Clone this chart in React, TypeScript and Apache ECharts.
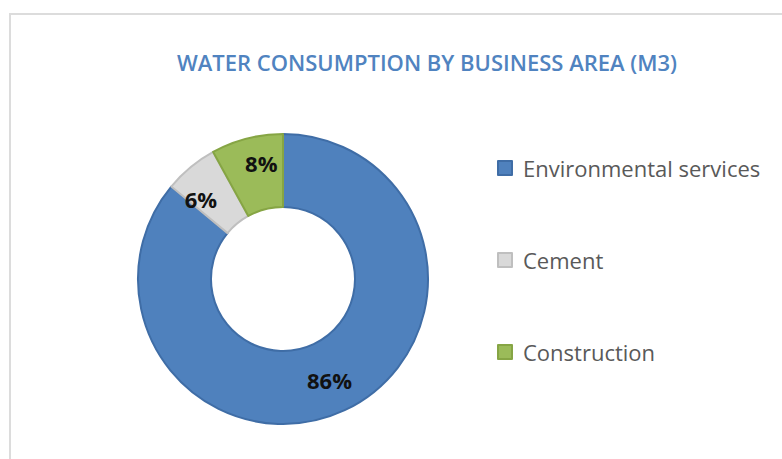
import React, { useEffect, useRef } from "react";
import * as echarts from "echarts";

const categories = ["Environmental services", "Cement", "Construction"];
const shares = [86, 6, 8];
const colors = ["#4F81BD", "#D9D9D9", "#9BBB59"];
const borders = ["#3F6DA6", "#BFBFBF", "#86A544"];
const labelOffsets = [[-1, 0], [-11, 6], [6, -8]];

export default function App() {
  const ref = useRef<HTMLDivElement>(null);
  useEffect(() => {
    if (!ref.current) return;
    const chart = echarts.init(ref.current, null, { renderer: "svg" });
    chart.setOption({
      animation: false,
      backgroundColor: "#ffffff",
      title: {
        text: "WATER CONSUMPTION BY BUSINESS AREA (M3)",
        left: 422,
        top: 46,
        textAlign: "center",
        textStyle: {
          fontFamily: "Open Sans",
          fontWeight: 600,
          fontSize: 22,
          color: "#5083C0",
        },
      },
      graphic: [
        {
          type: "rect",
          shape: { x: 10, y: 14, width: 820, height: 500 },
          style: { fill: "none", stroke: "#DCDCDC", lineWidth: 2 },
          silent: true,
          z: -1,
        },
      ],
      legend: {
        orient: "vertical",
        left: 492,
        top: 152,
        itemWidth: 14,
        itemHeight: 14,
        itemGap: 70,
        icon: "rect",
        textStyle: {
          fontFamily: "Open Sans",
          fontSize: 22,
          color: "#595959",
          padding: [0, 0, 0, 6],
        },
        data: categories,
      },
      series: [
        {
          type: "pie",
          center: [283, 279],
          radius: [72, 145],
          startAngle: 90,
          clockwise: true,
          label: {
            show: true,
            position: "inside",
            formatter: "{d}%",
            fontFamily: "Open Sans",
            fontWeight: "bold",
            fontSize: 22,
            color: "#111111",
          },
          labelLine: { show: false },
          data: categories.map((name, i) => ({
            name,
            value: shares[i],
            itemStyle: { color: colors[i], borderColor: borders[i], borderWidth: 2 },
            label: { offset: labelOffsets[i] },
          })),
        },
      ],
    });
    return () => chart.dispose();
  }, []);
  return (
    <div
      ref={ref}
      style={{ position: "fixed", left: 0, top: 0, width: 782, height: 459 }}
    />
  );
}
